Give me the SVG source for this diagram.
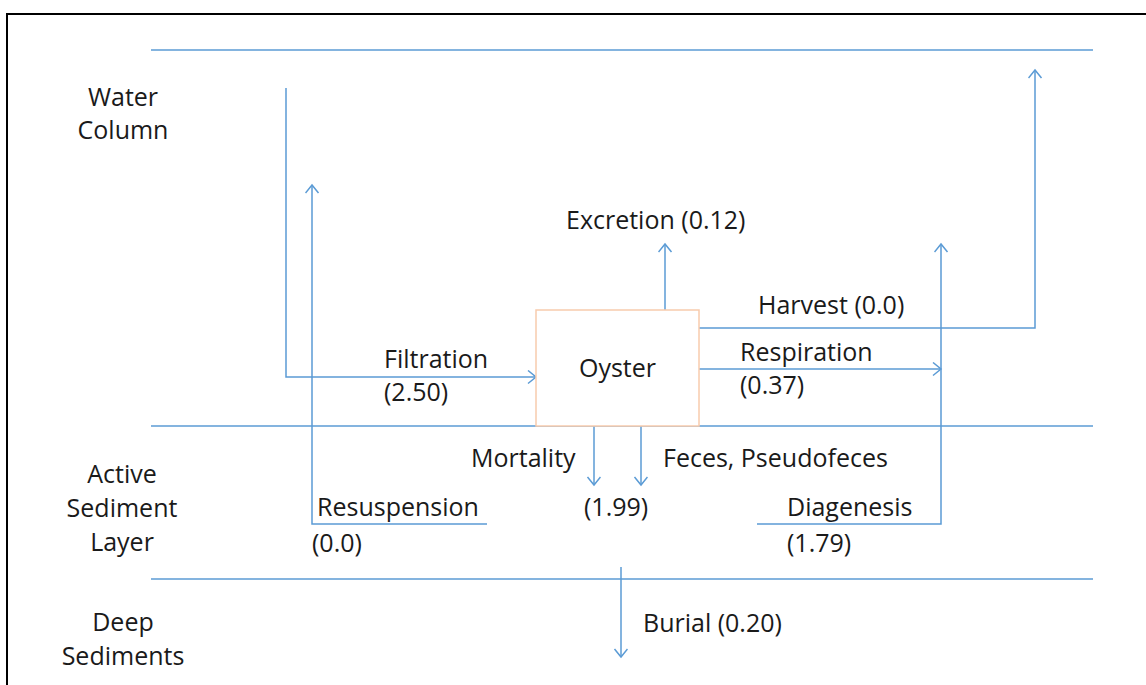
<svg xmlns="http://www.w3.org/2000/svg" width="1146" height="685" viewBox="0 0 1146 685">
<style>
.t{font-family:"Open Sans","Noto Sans",sans-serif;font-size:25px;fill:#1a1a1a}
.c{text-anchor:middle}
.ln{stroke:#5b9bd5;stroke-width:1.5;fill:none}
.ar{stroke:#5b9bd5;stroke-width:1.5;fill:none;marker-end:url(#ah)}
</style>
<defs>
<marker id="ah" markerUnits="userSpaceOnUse" markerWidth="12" markerHeight="16" refX="9" refY="7" orient="auto" viewBox="0 0 12 16">
<path d="M1,0.5 L9,7 L1,13.5" fill="none" stroke="#5b9bd5" stroke-width="1.5"/>
</marker>
</defs>
<rect width="1146" height="685" fill="#fff"/>
<path d="M7,685 L7,14 L1146,14" fill="none" stroke="#000" stroke-width="2"/>
<g id="layers">
<line class="ln" x1="151" y1="50" x2="1093" y2="50"/>
<line class="ln" x1="151" y1="426" x2="1093" y2="426"/>
<line class="ln" x1="151" y1="579" x2="1093" y2="579"/>
</g>
<g id="labels">
<text class="t c" x="123" y="106">Water</text>
<text class="t c" x="123" y="139">Column</text>
<text class="t c" x="122" y="483">Active</text>
<text class="t c" x="122" y="517">Sediment</text>
<text class="t c" x="122" y="551">Layer</text>
<text class="t c" x="123" y="631">Deep</text>
<text class="t c" x="123" y="665">Sediments</text>
</g>
<g id="connectors">
<polyline class="ar" points="286,88 286,377 536,377"/>
<polyline class="ar" points="487,524 312,524 312,185"/>
<polyline class="ar" points="665,310 665,244"/>
<polyline class="ar" points="699,328 1035,328 1035,70"/>
<polyline class="ar" points="699,369 941,369"/>
<polyline class="ar" points="757,524 941,524 941,244"/>
<polyline class="ar" points="594,426 594,485"/>
<polyline class="ar" points="641,426 641,485"/>
<polyline class="ar" points="621,567 621,657"/>
</g>
<g id="oyster">
<rect x="536" y="310" width="163" height="116" fill="#fff" stroke="#f8cbad" stroke-width="1.5"/>
<text class="t c" x="617.5" y="377">Oyster</text>
</g>
<g id="flow-labels">
<text class="t" x="566" y="229">Excretion (0.12)</text>
<text class="t" x="758" y="314">Harvest (0.0)</text>
<text class="t" x="384" y="368">Filtration</text>
<text class="t" x="384" y="401">(2.50)</text>
<text class="t" x="740" y="361">Respiration</text>
<text class="t" x="740" y="394">(0.37)</text>
<text class="t" x="471" y="467">Mortality</text>
<text class="t" x="663" y="467">Feces, Pseudofeces</text>
<text class="t" x="584" y="516">(1.99)</text>
<text class="t" x="317" y="516">Resuspension</text>
<text class="t" x="312" y="552">(0.0)</text>
<text class="t" x="787" y="516">Diagenesis</text>
<text class="t" x="787" y="552">(1.79)</text>
<text class="t" x="643" y="632">Burial (0.20)</text>
</g>
</svg>
